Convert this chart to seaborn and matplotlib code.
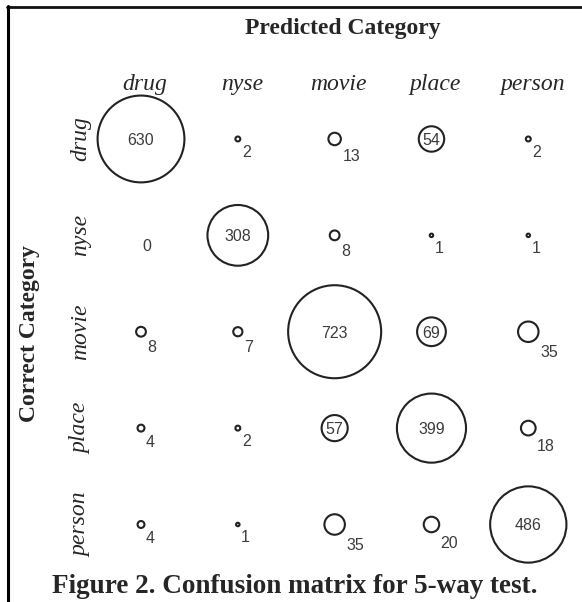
import numpy as np
import pandas as pd
import matplotlib
matplotlib.use("Agg")
import matplotlib.pyplot as plt
import matplotlib.transforms as mtransforms
from matplotlib.lines import Line2D
import seaborn as sns

# Class names (rows = correct, columns = predicted)
categories = ["drug", "nyse", "movie", "place", "person"]

# Counts per correct category, in the order of `categories`
drug_row = [630, 2, 13, 54, 2]
nyse_row = [0, 308, 8, 1, 1]
movie_row = [8, 7, 723, 69, 35]
place_row = [4, 2, 57, 399, 18]
person_row = [4, 1, 35, 20, 486]

rows = [drug_row, nyse_row, movie_row, place_row, person_row]

records = []
for r, row in enumerate(rows):
    for c, v in enumerate(row):
        records.append({"row": r, "col": c, "count": v})
df = pd.DataFrame(records)

DPI = 100
S_MAX = 4486.0          # marker area (pt^2) for the largest count
V_MAX = 723.0
INSIDE_MIN = 50         # counts at or above this are written inside the circle

sns.set_theme(style="white")
plt.rcParams["font.family"] = ["Liberation Serif", "DejaVu Serif"]

fig = plt.figure(figsize=(5.82, 6.02), dpi=DPI)
ax = fig.add_axes([0.1591, 0.0487, 0.8318, 0.8005])

sns.scatterplot(
    data=df[df["count"] > 0], x="col", y="row", size="count",
    sizes=(0, S_MAX), size_norm=(0, V_MAX), legend=False,
    facecolor="white", edgecolor="#222222", linewidth=1.5, ax=ax, zorder=2,
)

ax.set_xlim(-0.5, 4.5)
ax.set_ylim(4.5, -0.5)

label_kw = dict(family="Liberation Sans", fontsize=11.5, color="#3c3c3c", zorder=3)
for _, rec in df.iterrows():
    v = int(rec["count"])
    s = S_MAX * v / V_MAX
    r_px = np.sqrt(s) / 2 * DPI / 72
    if v >= INSIDE_MIN:
        ax.annotate(str(v), xy=(rec["col"], rec["row"]), xytext=(0, -1.5),
                    textcoords="offset pixels", ha="center", va="center", **label_kw)
    else:
        ax.annotate(str(v), xy=(rec["col"], rec["row"]),
                    xytext=(r_px + 1.5, -(r_px + 11)), textcoords="offset pixels",
                    ha="left", va="center", **label_kw)

# Category names along the top and the left side
ax.xaxis.tick_top()
ax.set_xticks(range(len(categories)))
ax.set_xticklabels(categories, fontstyle="italic", fontsize=17, family="Liberation Serif")
ax.set_yticks(range(len(categories)))
ax.set_yticklabels(categories, fontstyle="italic", fontsize=17, family="Liberation Serif",
                   rotation=90, va="center")
ax.tick_params(axis="both", length=0)
ax.tick_params(axis="x", pad=-3)
ax.tick_params(axis="y", pad=1)
shift = mtransforms.ScaledTranslation(4 / DPI, 0, fig.dpi_scale_trans)
for lbl in ax.get_xticklabels():
    lbl.set_transform(lbl.get_transform() + shift)
ax.set_xlabel("")
ax.set_ylabel("")
for sp in ax.spines.values():
    sp.set_visible(False)
ax.grid(False)

W, H = 582.0, 602.0
fig.text(343 / W, 1 - 34 / H, "Predicted Category", ha="center", va="baseline",
         fontsize=17, fontweight="bold")
fig.text(30 / W, 1 - 333 / H, "Correct Category", ha="center", va="center",
         rotation=90, fontsize=17, fontweight="bold")
fig.text(295 / W, 1 - 593 / H, "Figure 2. Confusion matrix for 5-way test.",
         ha="center", va="baseline", fontsize=19.5, fontweight="bold")

# Frame lines at the top and left edges
fig.add_artist(Line2D([7 / W, 1.0], [1 - 7 / H, 1 - 7 / H], color="#111111", linewidth=2.0,
                      transform=fig.transFigure))
fig.add_artist(Line2D([8 / W, 8 / W], [1 - 6 / H, 0.0], color="#000000", linewidth=2.2,
                      transform=fig.transFigure))

fig.savefig("out.png", dpi=DPI)
